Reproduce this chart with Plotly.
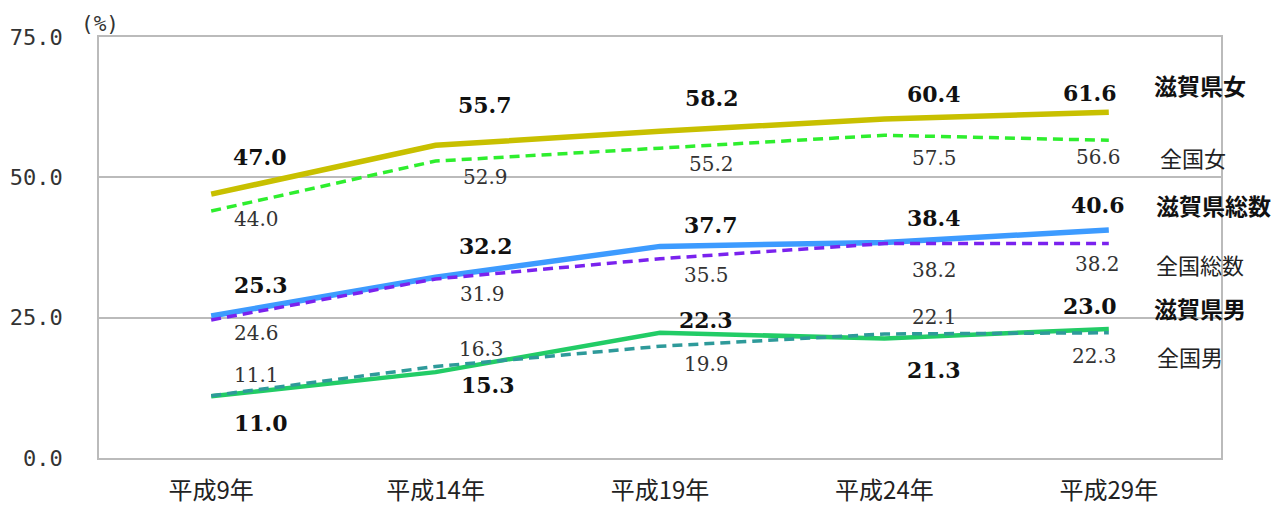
import plotly.graph_objects as go

# ---- data ----
years = ["平成9年", "平成14年", "平成19年", "平成24年", "平成29年"]
shiga_female = [47.0, 55.7, 58.2, 60.4, 61.6]
japan_female = [44.0, 52.9, 55.2, 57.5, 56.6]
shiga_total = [25.3, 32.2, 37.7, 38.4, 40.6]
japan_total = [24.6, 31.9, 35.5, 38.2, 38.2]
shiga_male = [11.0, 15.3, 22.3, 21.3, 23.0]
japan_male = [11.1, 16.3, 19.9, 22.1, 22.3]
y_ticks = [0, 25, 50, 75]

# ---- styles / label offsets (pixels: dx right, dy down) ----
series = [
    dict(name="滋賀県女", y=shiga_female, color="#C8C000", width=5.5, dash="solid", bold=True,
         offs=[(49, -37), (49, -40), (52, -33), (50, -25), (-19, -19)], name_off=(43, -27)),
    dict(name="全国女", y=japan_female, color="#2EEE2E", width=3.5, dash="10px,6px", bold=False,
         offs=[(45, 8), (50, 16), (51, 16), (50, 23), (-10, 17)], name_off=(49, 17)),
    dict(name="滋賀県総数", y=shiga_total, color="#3D9BFF", width=5.5, dash="solid", bold=True,
         offs=[(50, -31), (50, -31), (51, -21), (50, -24), (-11, -25)], name_off=(45, -25)),
    dict(name="全国総数", y=japan_total, color="#7A22EE", width=3.5, dash="10px,6px", bold=False,
         offs=[(45, 13), (47, 15), (46, 16), (50, 26), (-11, 20)], name_off=(45, 20)),
    dict(name="滋賀県男", y=shiga_male, color="#22CC66", width=4.5, dash="solid", bold=True,
         offs=[(50, 27), (52, 13), (46, -13), (50, 32), (-19, -23)], name_off=(43, -21)),
    dict(name="全国男", y=japan_male, color="#2E9A9A", width=3.5, dash="10px,6px", bold=False,
         offs=[(45, -21), (46, -18), (46, 18), (50, -17), (-14, 23)], name_off=(46, 23)),
]

num_font_b = dict(family="DejaVu Serif", size=22, color="#111111", weight="bold")
num_font_r = dict(family="DejaVu Serif", size=20, color="#333333")
jp_font_b = dict(family="Noto Sans CJK JP", size=23, color="#111111", weight="bold")
jp_font_r = dict(family="Noto Sans CJK JP", size=22, color="#222222")

fig = go.Figure()
annotations = []
order = [0, 2, 4, 1, 3, 5]
for i in order:
    s = series[i]
    fig.add_trace(go.Scatter(
        x=years, y=s["y"], mode="lines", name=s["name"],
        line=dict(color=s["color"], width=s["width"], dash=s["dash"]),
        showlegend=False, hoverinfo="skip",
    ))
for s in series:
    for xv, yv, (dx, dy) in zip(years, s["y"], s["offs"]):
        annotations.append(dict(
            x=xv, y=yv, xref="x", yref="y", text=f"{yv:.1f}", showarrow=False,
            xshift=dx, yshift=-dy, xanchor="center", yanchor="middle",
            font=num_font_b if s["bold"] else num_font_r,
        ))
    dx, dy = s["name_off"]
    annotations.append(dict(
        x=years[-1], y=s["y"][-1], xref="x", yref="y", text=s["name"], showarrow=False,
        xshift=dx, yshift=-dy, xanchor="left", yanchor="middle",
        font=jp_font_b if s["bold"] else jp_font_r,
    ))

annotations.append(dict(
    x=0, y=1, xref="paper", yref="paper", text="(%)", showarrow=False,
    xanchor="left", yanchor="middle", xshift=-20, yshift=13,
    font=dict(family="DejaVu Sans Mono", size=21, color="#333333"),
))

fig.update_layout(
    width=1277, height=498,
    margin=dict(l=91, r=64, t=29, b=48, autoexpand=False),
    paper_bgcolor="white", plot_bgcolor="white",
    annotations=annotations,
    xaxis=dict(
        type="category", range=[-0.5, 4.5], automargin=False,
        showline=True, linecolor="#BBBBBB", linewidth=1.5, mirror=True,
        showgrid=False, ticks="", ticklabelstandoff=10,
        tickfont=dict(family="Noto Sans CJK JP", size=24, color="#222222"),
    ),
    yaxis=dict(
        range=[0, 75], tickvals=y_ticks, ticktext=[f"{v:.1f}" for v in y_ticks],
        automargin=False,
        showline=True, linecolor="#BBBBBB", linewidth=1.5, mirror=True,
        showgrid=True, gridcolor="#BBBBBB", gridwidth=1.5, zeroline=False,
        ticks="", ticklabelstandoff=30,
        tickfont=dict(family="DejaVu Sans Mono", size=22, color="#333333"),
    ),
)

fig.write_html("out.html")
